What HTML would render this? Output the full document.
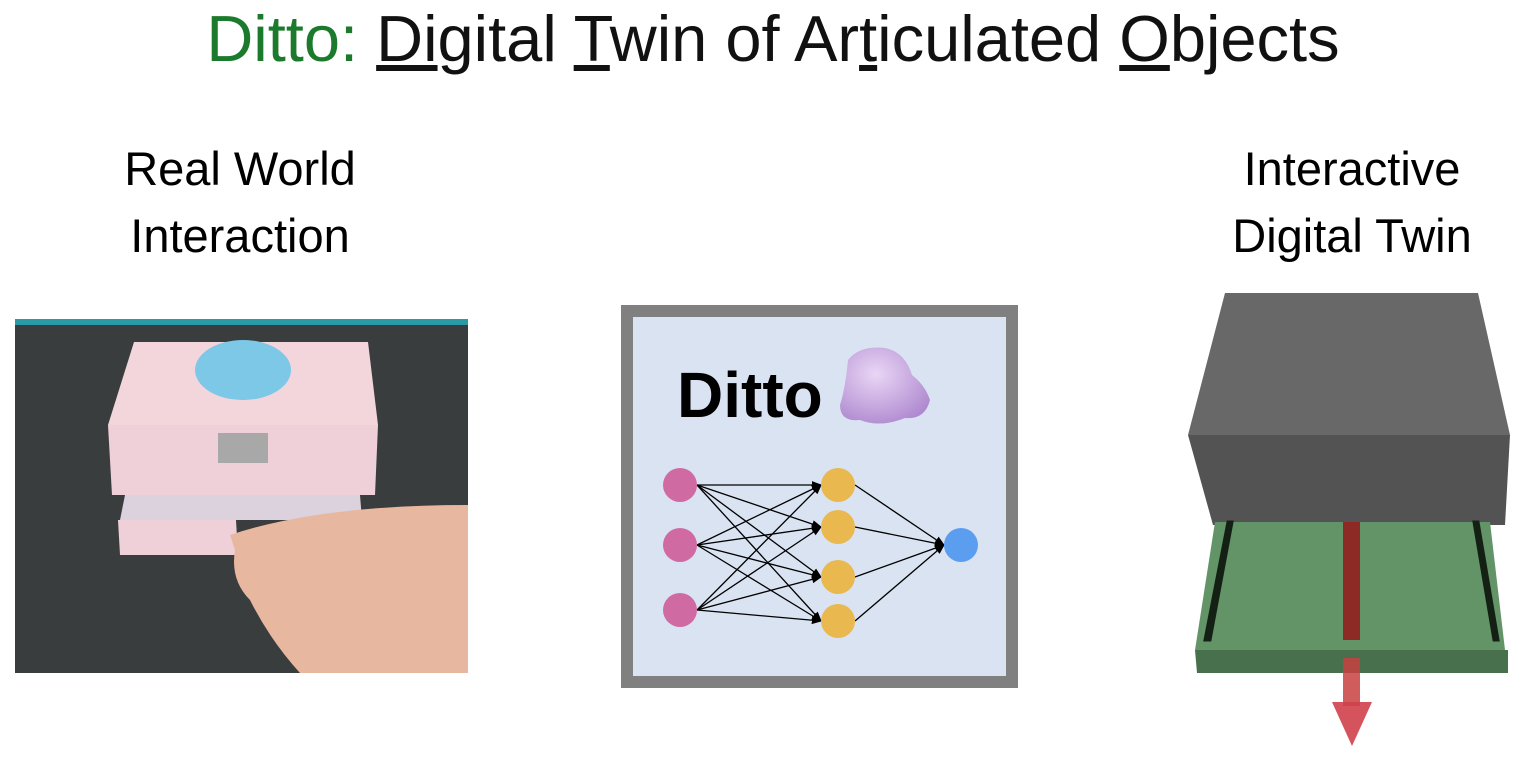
<!DOCTYPE html>
<html><head><meta charset="utf-8"><style>
body{margin:0;width:1534px;height:758px;background:#fff;overflow:hidden;font-family:"Liberation Sans",sans-serif;}
.t{position:absolute;white-space:nowrap;text-align:center}
</style></head><body>
<div class="t" style="left:0;width:1546px;top:1px;font-size:65px;color:#111;font-weight:300">
<span style="color:#1b7a2b">Ditto:</span> <u>Di</u>gital <u>T</u>win of Ar<u>t</u>iculated <u>O</u>bjects</div>
<div class="t" style="left:40px;width:400px;top:135px;font-size:47px;line-height:67px;color:#000">Real World<br>Interaction</div>
<div class="t" style="left:1152px;width:400px;top:135px;font-size:47px;line-height:67px;color:#000">Interactive<br>Digital Twin</div>
<svg width="1534" height="758" style="position:absolute;left:0;top:0">
<defs><marker id="a" markerWidth="8" markerHeight="8" refX="7" refY="4" orient="auto"><path d="M0,1 L8,4 L0,7z" fill="#000"/></marker>
<radialGradient id="bl" cx="0.4" cy="0.35" r="0.7"><stop offset="0" stop-color="#e9d6f5"/><stop offset="1" stop-color="#b08ad0"/></radialGradient></defs>
<rect x="15" y="319" width="453" height="354" fill="#3a3d3e"/>
<rect x="15" y="319" width="453" height="6" fill="#2a9aa6"/>
<path d="M134,342 L368,342 L378,425 L108,425z" fill="#f3d6dc"/>
<ellipse cx="243" cy="370" rx="48" ry="30" fill="#7cc8e6"/>
<path d="M108,425 L378,425 L375,495 L112,495z" fill="#f0d0d8"/>
<rect x="218" y="433" width="50" height="30" fill="#a8a8a8"/>
<path d="M125,495 L360,495 L362,520 L120,520z" fill="#dcd2de"/>
<path d="M118,520 L236,520 L238,555 L120,555z" fill="#f0d0d8"/>
<path d="M230,535 Q320,505 468,505 L468,673 L300,673 Q270,640 250,600 Q230,580 235,550z" fill="#e8b7a0"/>
<rect x="627" y="311" width="385" height="371" fill="#dae3f1" stroke="#808080" stroke-width="12"/>
<text x="677" y="417" font-size="64" font-weight="bold" fill="#000" font-family="Liberation Sans,sans-serif">Ditto</text>
<path d="M848,360 Q860,345 885,348 Q905,352 912,375 Q925,385 930,400 Q925,420 905,418 Q880,428 860,420 Q840,422 840,405 Q845,390 848,360z" fill="url(#bl)"/>
<g stroke="#000" stroke-width="1.3" marker-end="url(#a)">
<line x1="697" y1="485" x2="821" y2="485"/><line x1="697" y1="485" x2="821" y2="527"/><line x1="697" y1="485" x2="821" y2="577"/><line x1="697" y1="485" x2="821" y2="621"/>
<line x1="697" y1="545" x2="821" y2="485"/><line x1="697" y1="545" x2="821" y2="527"/><line x1="697" y1="545" x2="821" y2="577"/><line x1="697" y1="545" x2="821" y2="621"/>
<line x1="697" y1="610" x2="821" y2="485"/><line x1="697" y1="610" x2="821" y2="527"/><line x1="697" y1="610" x2="821" y2="577"/><line x1="697" y1="610" x2="821" y2="621"/>
<line x1="855" y1="485" x2="944" y2="545"/><line x1="855" y1="527" x2="944" y2="545"/><line x1="855" y1="577" x2="944" y2="545"/><line x1="855" y1="621" x2="944" y2="545"/>
</g>
<g fill="#cf6aa3"><circle cx="680" cy="485" r="17"/><circle cx="680" cy="545" r="17"/><circle cx="680" cy="610" r="17"/></g>
<g fill="#e9b84f"><circle cx="838" cy="485" r="17"/><circle cx="838" cy="527" r="17"/><circle cx="838" cy="577" r="17"/><circle cx="838" cy="621" r="17"/></g>
<circle cx="961" cy="545" r="17" fill="#5b9ef0"/>
<path d="M1225,293 L1478,293 L1510,435 L1188,435z" fill="#686868"/>
<path d="M1188,435 L1510,435 L1505,525 L1492,525 L1215,525 L1213,525z" fill="#535353"/>
<path d="M1215,522 L1490,522 L1505,650 L1195,650z" fill="#629467"/>
<path d="M1195,650 L1508,650 L1508,673 L1197,673z" fill="#48704c"/>
<path d="M1228,522 L1232,522 L1210,640 L1205,640z" fill="#152015" stroke="#152015" stroke-width="3"/>
<path d="M1474,522 L1478,522 L1498,640 L1494,640z" fill="#152015" stroke="#152015" stroke-width="3"/>
<rect x="1343" y="522" width="17" height="118" fill="#8e2a26"/>
<rect x="1343" y="658" width="17" height="48" fill="#c84040" opacity="0.85"/>
<path d="M1332,702 L1372,702 L1352,746z" fill="#d0404a" opacity="0.9"/>
</svg>
</body></html>
